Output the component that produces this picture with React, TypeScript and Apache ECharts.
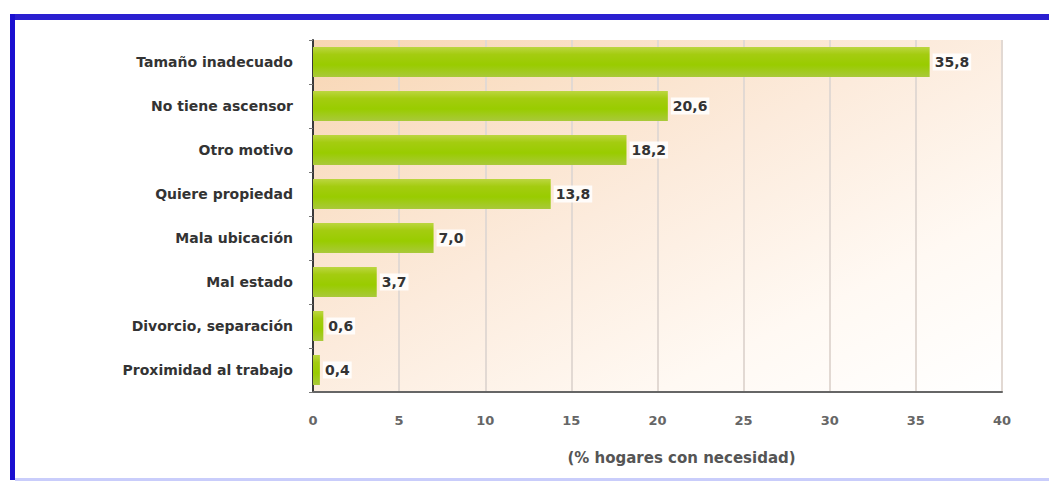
import React, { useEffect, useRef } from "react";
import * as echarts from "echarts";

// Motivos de necesidad de vivienda, de mayor a menor
const categories = [
  "Tamaño inadecuado",
  "No tiene ascensor",
  "Otro motivo",
  "Quiere propiedad",
  "Mala ubicación",
  "Mal estado",
  "Divorcio, separación",
  "Proximidad al trabajo",
];
const values = [35.8, 20.6, 18.2, 13.8, 7.0, 3.7, 0.6, 0.4];
const xTicks = [0, 5, 10, 15, 20, 25, 30, 35, 40];
const axisTitle = "(% hogares con necesidad)";

const FONT = "'DejaVu Sans', 'Liberation Sans', sans-serif";

export default function App() {
  const ref = useRef<HTMLDivElement>(null);

  useEffect(() => {
    if (!ref.current) return;
    const chart = echarts.init(ref.current, null, { renderer: "svg" });

    chart.setOption({
      animation: false,
      backgroundColor: "#ffffff",
      grid: {
        left: 313,
        right: 47,
        top: 40,
        bottom: 92,
        show: true,
        borderWidth: 0,
        backgroundColor: new echarts.graphic.LinearGradient(0, 0, 1, 1, [
          { offset: 0, color: "#f8d6b4" },
          { offset: 0.45, color: "#fcebdc" },
          { offset: 0.75, color: "#fff9f3" },
          { offset: 1, color: "#ffffff" },
        ]),
      },
      xAxis: {
        type: "value",
        min: xTicks[0],
        max: xTicks[xTicks.length - 1],
        interval: 5,
        name: axisTitle,
        nameLocation: "middle",
        nameGap: 58,
        nameTextStyle: {
          fontFamily: FONT,
          fontWeight: "bold",
          fontSize: 15,
          color: "#555555",
          padding: [0, 0, 0, 48],
        },
        axisLine: { show: true, lineStyle: { color: "#666666", width: 2 } },
        axisTick: { show: false },
        axisLabel: {
          margin: 22,
          fontFamily: FONT,
          fontWeight: "bold",
          fontSize: 13,
          color: "#666666",
        },
        splitLine: { show: true, lineStyle: { color: "#e2d9d3", width: 2 } },
      },
      yAxis: {
        type: "category",
        inverse: true,
        data: categories,
        axisLine: { show: true, lineStyle: { color: "#3a3a3a", width: 2 } },
        axisTick: { show: true, length: 4, lineStyle: { color: "#777777" } },
        axisLabel: {
          margin: 20,
          fontFamily: FONT,
          fontWeight: "bold",
          fontSize: 14,
          color: "#333333",
        },
        splitLine: { show: false },
      },
      series: [
        {
          type: "bar",
          data: values,
          barWidth: 30,
          itemStyle: {
            color: new echarts.graphic.LinearGradient(0, 0, 0, 1, [
              { offset: 0, color: "#bcd640" },
              { offset: 0.25, color: "#a4cc10" },
              { offset: 0.6, color: "#99cc00" },
              { offset: 1, color: "#a9c93a" },
            ]),
          },
          label: {
            show: true,
            position: "right",
            distance: 3,
            fontFamily: FONT,
            fontWeight: "bold",
            fontSize: 14,
            color: "#333333",
            backgroundColor: "rgba(255,255,255,0.85)",
            padding: [2, 2, 1, 2],
            formatter: (p: any) => Number(p.value).toFixed(1).replace(".", ","),
          },
        },
      ],
      graphic: [
        // marco azul: línea superior, izquierda e inferior
        {
          type: "rect",
          shape: { x: 10, y: 14, width: 1039, height: 6 },
          style: { fill: "#2a1fd0" },
          silent: true,
        },
        {
          type: "rect",
          shape: { x: 10, y: 14, width: 5, height: 466 },
          style: { fill: "#1a0fd0" },
          silent: true,
        },
        {
          type: "rect",
          shape: { x: 15, y: 478, width: 1034, height: 3 },
          style: { fill: "#c9cdfb" },
          silent: true,
        },
      ],
    });

    return () => chart.dispose();
  }, []);

  return (
    <div
      ref={ref}
      style={{ position: "fixed", left: 0, top: 0, width: 1049, height: 484 }}
    />
  );
}
